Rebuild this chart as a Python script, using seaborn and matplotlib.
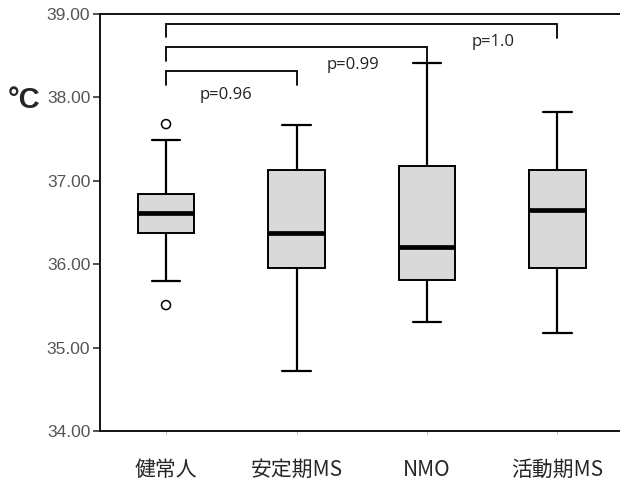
import numpy as np
import pandas as pd
import matplotlib
matplotlib.use("Agg")
import matplotlib.pyplot as plt
import seaborn as sns

# Groups and box statistics (deg C)
groups = ["健常人", "安定期MS", "NMO", "活動期MS"]
whisker_low = [35.80, 34.72, 35.31, 35.18]
q1 = [36.38, 35.95, 35.81, 35.95]
median = [36.61, 36.38, 36.21, 36.65]
q3 = [36.84, 37.13, 37.18, 37.13]
whisker_high = [37.49, 37.67, 38.41, 37.83]

# outliers (only healthy controls)
outlier_group = ["健常人", "健常人"]
outlier_value = [37.68, 35.51]

# comparisons against 健常人
compare_to = ["安定期MS", "NMO", "活動期MS"]
p_labels = ["p=0.96", "p=0.99", "p=1.0"]
yticks = [34, 35, 36, 37, 38, 39]

# long-form table: five summary values per group -> exact quartiles
rows = []
for i, g in enumerate(groups):
    for v in [whisker_low[i], q1[i], median[i], q3[i], whisker_high[i]]:
        rows.append({"group": g, "temp": v})
df = pd.DataFrame(rows)
df_out = pd.DataFrame({"group": outlier_group, "temp": outlier_value})

sns.set_style("ticks")
plt.rcParams["font.family"] = ["Noto Sans CJK JP", "DejaVu Sans"]

fig = plt.figure(figsize=(6.2, 4.82), dpi=100)
ax = fig.add_axes([100 / 620, 51 / 482, 520 / 620, 417 / 482])

sns.boxplot(data=df, x="group", y="temp", order=groups, ax=ax,
            color="#d9d9d9", saturation=1, width=0.43, linecolor="black",
            linewidth=1.4, showfliers=False,
            medianprops={"linewidth": 3.4, "color": "black"},
            whiskerprops={"linewidth": 1.6},
            capprops={"linewidth": 1.6})
sns.stripplot(data=df_out, x="group", y="temp", order=groups, ax=ax,
              jitter=False, size=6.5, facecolor="none", edgecolor="black",
              linewidth=1.1, zorder=4)

# significance brackets
bracket_y = [38.32, 38.61, 38.88]
leg_bottom_left = [38.15, 38.44, 38.73]
leg_bottom_right = [38.15, 38.41, 38.71]
text_xy = [(0.46, 38.03), (1.43, 38.39), (2.51, 38.66)]
for k, g in enumerate(compare_to):
    x1 = groups.index(g)
    ax.plot([0, 0, x1, x1],
            [leg_bottom_left[k], bracket_y[k], bracket_y[k], leg_bottom_right[k]],
            color="black", lw=1.3, solid_joinstyle="miter")
    ax.text(text_xy[k][0], text_xy[k][1], p_labels[k], ha="center", va="center",
            fontsize=12, color="#222222", family=["Open Sans", "DejaVu Sans"])

ax.set_ylim(34, 39)
ax.set_xlim(-0.506, 3.479)
ax.set_yticks(yticks)
ax.set_yticklabels([f"{t:.2f}" for t in yticks],
                   family=["Liberation Sans", "DejaVu Sans"],
                   fontsize=12.5, color="#555555")
ax.tick_params(axis="y", length=5, width=1.2, pad=2, color="#333333")
ax.tick_params(axis="x", length=2, width=0.6, color="#aaaaaa", pad=18, labelsize=15)
ax.set_xlabel("")
ax.set_ylabel("")

for side in ["left", "bottom", "top"]:
    ax.spines[side].set_visible(True)
    ax.spines[side].set_linewidth(1.4)
    ax.spines[side].set_color("#111111")
ax.spines["right"].set_visible(False)

fig.text(8 / 620, 1 - 100 / 482, "°C", ha="left", va="center", fontsize=21,
         fontweight="bold", family=["Liberation Sans", "DejaVu Sans"])

fig.savefig("out.png", dpi=100)
